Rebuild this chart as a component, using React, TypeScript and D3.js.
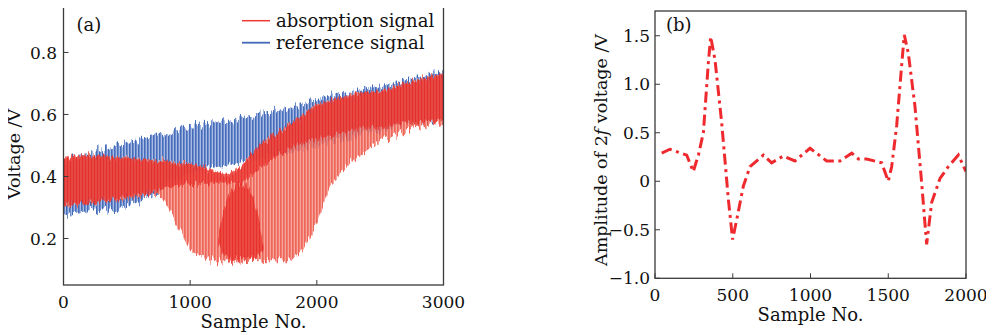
import React from "react";
import * as d3 from "d3";

// ---------- Panel (a) data: envelopes of the dense oscillating signals ----------
const sampleX = [0, 100, 200, 300, 400, 500, 600, 700, 800, 900, 1000, 1100, 1200, 1300, 1400, 1500,
  1600, 1700, 1800, 1900, 2000, 2100, 2200, 2300, 2400, 2500, 2600, 2700, 2800, 2900, 3000];
const refUpper = [0.44, 0.46, 0.475, 0.49, 0.5, 0.515, 0.52, 0.53, 0.535, 0.545, 0.56, 0.565, 0.575, 0.58, 0.59, 0.6,
  0.605, 0.615, 0.625, 0.64, 0.65, 0.66, 0.665, 0.675, 0.685, 0.69, 0.7, 0.71, 0.72, 0.73, 0.74];
const refLower = [0.275, 0.28, 0.285, 0.29, 0.295, 0.3, 0.32, 0.34, 0.37, 0.39, 0.41, 0.42, 0.43, 0.435, 0.445, 0.45,
  0.46, 0.47, 0.48, 0.49, 0.5, 0.51, 0.52, 0.53, 0.54, 0.55, 0.555, 0.565, 0.57, 0.58, 0.585];
const absUpper = [0.46, 0.465, 0.465, 0.465, 0.46, 0.46, 0.455, 0.45, 0.45, 0.44, 0.44, 0.43, 0.415, 0.405, 0.43, 0.48,
  0.515, 0.545, 0.57, 0.6, 0.63, 0.645, 0.655, 0.665, 0.67, 0.675, 0.685, 0.7, 0.71, 0.72, 0.73];
const absLower = [0.31, 0.31, 0.315, 0.32, 0.325, 0.33, 0.34, 0.35, 0.32, 0.24, 0.16, 0.14, 0.13, 0.13, 0.125, 0.13,
  0.13, 0.13, 0.13, 0.17, 0.25, 0.36, 0.42, 0.455, 0.485, 0.515, 0.53, 0.545, 0.555, 0.57, 0.58];
const absDenseLower = [0.31, 0.31, 0.315, 0.32, 0.325, 0.33, 0.34, 0.35, 0.36, 0.37, 0.375, 0.38, 0.38, 0.375, 0.38, 0.41,
  0.44, 0.47, 0.49, 0.51, 0.52, 0.53, 0.54, 0.55, 0.555, 0.56, 0.565, 0.57, 0.575, 0.58, 0.585];
// dense bright core of the absorption dip
const coreX = [1220, 1260, 1300, 1350, 1400, 1450, 1500, 1550, 1580];
const coreUpper = [0.2, 0.28, 0.34, 0.375, 0.385, 0.37, 0.33, 0.24, 0.18];
const coreLower = [0.18, 0.15, 0.135, 0.13, 0.13, 0.13, 0.135, 0.15, 0.17];

const aXTicks = [0, 1000, 2000, 3000];
const aYTicks = [0.2, 0.4, 0.6, 0.8];
const aYTickLabels = ["0.2", "0.4", "0.6", "0.8"];
const legendLabels = ["absorption signal", "reference signal"];

// ---------- Panel (b) data: 2f harmonic amplitude ----------
const harmX = [43, 96, 204, 246, 279, 311, 343, 358, 386, 429, 472, 499, 525, 568, 611, 697, 750, 825, 900, 997,
  1104, 1190, 1265, 1308, 1361, 1458, 1500, 1522, 1554, 1586, 1603, 1629, 1672, 1715, 1747, 1779, 1833, 1886, 1951, 2000];
const harmY = [0.29, 0.33, 0.27, 0.1, 0.27, 0.5, 1.22, 1.49, 1.25, 0.6, -0.19, -0.6, -0.4, -0.05, 0.15, 0.27, 0.19, 0.26,
  0.21, 0.34, 0.21, 0.21, 0.29, 0.23, 0.23, 0.19, 0.0, 0.15, 0.57, 1.19, 1.51, 1.32, 0.77, -0.02, -0.65, -0.22, 0.03, 0.15, 0.27, 0.1];

const bXTicks = [0, 500, 1000, 1500, 2000];
const bYTicks = [-1.0, -0.5, 0, 0.5, 1.0, 1.5];
const bYTickLabels = ["\u22121.0", "\u22120.5", "0", "0.5", "1.0", "1.5"];

const FONT = "'DejaVu Serif', serif";
const AXIS = "#3a3a3a";

function JagFilter({ id, seed, scale }: { id: string; seed: number; scale: number }) {
  return (
    <filter id={id} filterUnits="userSpaceOnUse" x={50} y={0} width={410} height={300} colorInterpolationFilters="sRGB">
      <feTurbulence type="fractalNoise" baseFrequency="0.42 0.012" numOctaves={2} seed={seed} result="noise" />
      <feColorMatrix in="noise" type="matrix" values="0 0 0 0 0.5  0 1 0 0 0  0 0 0 0 0  0 0 0 0 1" result="nm" />
      <feDisplacementMap in="SourceGraphic" in2="nm" scale={scale} xChannelSelector="R" yChannelSelector="G" />
    </filter>
  );
}

export default function App() {
  // Panel (a)
  const ax = d3.scaleLinear().domain([0, 3000]).range([63.5, 443.5]);
  const ay = d3.scaleLinear().domain([0.05, 0.953]).range([285, 5]);
  const band = (xs: number[], lo: number[], hi: number[]) =>
    d3.area<number>().x((i) => ax(xs[i])).y0((i) => ay(lo[i])).y1((i) => ay(hi[i]))(d3.range(xs.length)) || "";

  // Panel (b)
  const bx = d3.scaleLinear().domain([0, 2000]).range([655, 966]);
  const by = d3.scaleLinear().domain([-1, 1.755]).range([278.3, 11]);
  const harmPath = d3.line<number>().x((i) => bx(harmX[i])).y((i) => by(harmY[i]))(d3.range(harmX.length)) || "";

  const [ax0, ax1] = ax.range();
  const [ay0, ay1] = [ay(0.953), ay(0.05)];
  const [bx0, bx1] = bx.range();
  const [by0, by1] = [by(1.755), by(-1)];

  return (
    <svg width={994} height={335} style={{ display: "block", margin: "-8px 0 0 -8px" }} fontFamily={FONT}>
      <defs>
        <pattern id="pBlue" patternUnits="userSpaceOnUse" width={3} height={10}>
          <rect width={3} height={10} fill="#a3b8e3" />
          <rect width={1.6} height={10} fill="#3c64b6" />
        </pattern>
        <pattern id="pRedLight" patternUnits="userSpaceOnUse" width={3} height={10} x={1}>
          <rect width={3} height={10} fill="#f6978a" />
          <rect width={1.7} height={10} fill="#ec4c3e" />
        </pattern>
        <pattern id="pRedDense" patternUnits="userSpaceOnUse" width={3} height={10} x={0.5}>
          <rect width={3} height={10} fill="#ef4d42" />
          <rect width={1.7} height={10} fill="#e4201f" />
        </pattern>
        <JagFilter id="jagBlue" seed={3} scale={18} />
        <JagFilter id="jagRed" seed={11} scale={18} />
        <JagFilter id="jagRed2" seed={21} scale={14} />
        <JagFilter id="jagCore" seed={33} scale={22} />
        <clipPath id="clipA">
          <rect x={ax0} y={ay0} width={ax1 - ax0} height={ay1 - ay0} />
        </clipPath>
        <clipPath id="clipB">
          <rect x={bx0} y={by0} width={bx1 - bx0} height={by1 - by0} />
        </clipPath>
      </defs>

      {/* ---------------- Panel (a) ---------------- */}
      <g clipPath="url(#clipA)">
        <path d={band(sampleX, refLower, refUpper)} fill="url(#pBlue)" opacity={0.95} filter="url(#jagBlue)" />
        <path d={band(sampleX, absLower, absUpper)} fill="url(#pRedLight)" opacity={0.85} filter="url(#jagRed)" />
        <path d={band(sampleX, absDenseLower, absUpper)} fill="url(#pRedDense)" opacity={0.78} filter="url(#jagRed2)" />
        <path d={band(coreX, coreLower, coreUpper)} fill="url(#pRedDense)" opacity={0.82} filter="url(#jagCore)" />
      </g>
      <rect x={ax0} y={ay0} width={ax1 - ax0} height={ay1 - ay0} fill="none" stroke={AXIS} strokeWidth={1.3} />
      {aXTicks.map((t) => (
        <g key={"axt" + t}>
          <line x1={ax(t)} x2={ax(t)} y1={ay1} y2={ay1 - 5} stroke={AXIS} strokeWidth={1} />
          <text x={ax(t)} y={308} fontSize={17} textAnchor="middle" fill="#111">{t}</text>
        </g>
      ))}
      {aYTicks.map((t, i) => (
        <g key={"ayt" + t}>
          <line x1={ax0} x2={ax0 + 5} y1={ay(t)} y2={ay(t)} stroke={AXIS} strokeWidth={1} />
          <text x={57} y={ay(t)} dy="0.36em" fontSize={17} textAnchor="end" fill="#111">{aYTickLabels[i]}</text>
        </g>
      ))}
      <text x={(ax0 + ax1) / 2} y={328} fontSize={18} textAnchor="middle" fill="#111">Sample No.</text>
      <text transform={`translate(20,154) rotate(-90)`} fontSize={17.5} textAnchor="middle" fill="#111">Voltage /V</text>
      <text x={76.5} y={31} fontSize={18} fill="#111">(a)</text>
      {/* legend */}
      <line x1={242} x2={270} y1={20.7} y2={20.7} stroke="#ee3a33" strokeWidth={1.5} />
      <line x1={242} x2={270} y1={42.7} y2={42.7} stroke="#4169b8" strokeWidth={1.8} />
      <text x={276} y={27} fontSize={18} fill="#111">{legendLabels[0]}</text>
      <text x={276} y={48.5} fontSize={18} fill="#111">{legendLabels[1]}</text>

      {/* ---------------- Panel (b) ---------------- */}
      <g clipPath="url(#clipB)">
        <path d={harmPath} fill="none" stroke="#ee2a2e" strokeWidth={3} strokeDasharray="11 4.5 3 4.5" />
      </g>
      <rect x={bx0} y={by0} width={bx1 - bx0} height={by1 - by0} fill="none" stroke={AXIS} strokeWidth={1.3} />
      {bXTicks.map((t) => (
        <g key={"bxt" + t}>
          <line x1={bx(t)} x2={bx(t)} y1={by1} y2={by1 - 5} stroke={AXIS} strokeWidth={1} />
          <text x={bx(t)} y={301} fontSize={17} textAnchor="middle" fill="#111">{t}</text>
        </g>
      ))}
      {bYTicks.map((t, i) => (
        <g key={"byt" + t}>
          <line x1={bx0} x2={bx0 + 5} y1={by(t)} y2={by(t)} stroke={AXIS} strokeWidth={1} />
          <text x={650} y={by(t)} dy="0.36em" fontSize={17} textAnchor="end" fill="#111">{bYTickLabels[i]}</text>
        </g>
      ))}
      <text x={(bx0 + bx1) / 2} y={321} fontSize={18} textAnchor="middle" fill="#111">Sample No.</text>
      <text transform={`translate(607,150) rotate(-90)`} fontSize={17.5} textAnchor="middle" fill="#111">
        Amplitude of 2<tspan fontStyle="italic">f</tspan> voltage /V
      </text>
      <text x={666} y={31} fontSize={18} fill="#111">(b)</text>
    </svg>
  );
}
